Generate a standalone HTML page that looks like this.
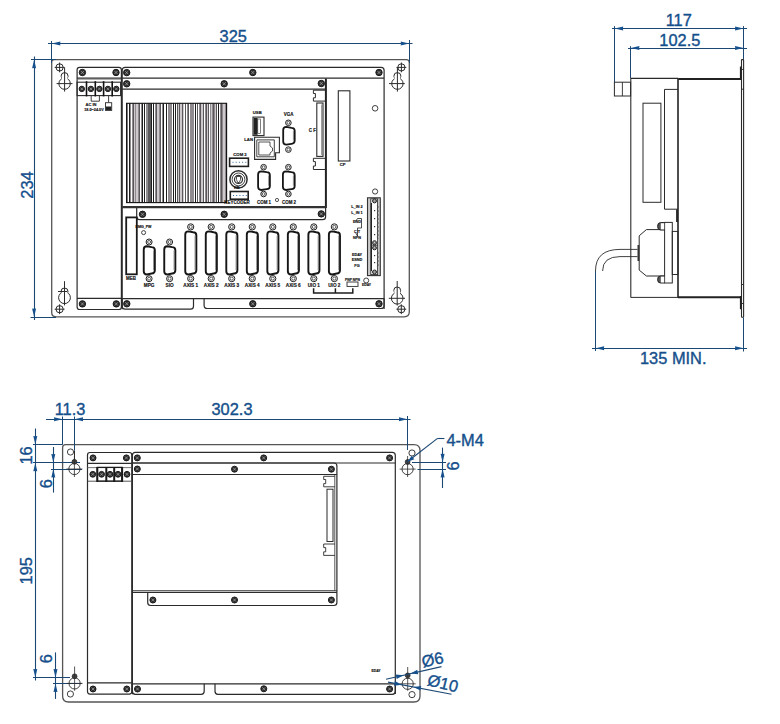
<!DOCTYPE html>
<html><head><meta charset="utf-8"><style>
html,body{margin:0;padding:0;background:#fff;}
svg{display:block;}
text{font-family:"Liberation Sans",sans-serif;}
</style></head><body>
<svg width="780" height="724" viewBox="0 0 780 724">
<rect width="780" height="724" fill="#fff"/>
<path d="M51.7,62.1 Q51.7,59.6 54.2,59.6 H406.3 Q409.3,59.6 409.3,62.6 V311.8 Q409.3,316.8 404.3,316.8 H55.9 Q51.7,316.8 51.7,312.6 Z" stroke="#555" stroke-width="1.3" fill="none"/>
<line x1="48" y1="43.5" x2="412.5" y2="43.5" stroke="#1b4774" stroke-width="1.1"/>
<path d="M51.8,43.4 L60.4,41.4 L60.14,43.4 L60.4,45.4 Z" fill="#15508c"/>
<path d="M409.3,43.4 L400.7,45.4 L400.96,43.4 L400.7,41.4 Z" fill="#15508c"/>
<line x1="51.5" y1="41" x2="51.5" y2="63" stroke="#1b4774" stroke-width="1"/>
<line x1="409.5" y1="40" x2="409.5" y2="63" stroke="#1b4774" stroke-width="1"/>
<text x="233.2" y="42" font-size="16.4" fill="#15508c" stroke="#15508c" stroke-width="0.38" text-anchor="middle" font-weight="normal">325</text>
<line x1="34.5" y1="56.5" x2="34.5" y2="320" stroke="#1b4774" stroke-width="1.1"/>
<path d="M34.1,59.7 L36.1,68.3 L34.1,68.04 L32.1,68.3 Z" fill="#15508c"/>
<path d="M34.1,317 L32.1,308.4 L34.1,308.66 L36.1,308.4 Z" fill="#15508c"/>
<line x1="31" y1="59.5" x2="56" y2="59.5" stroke="#1b4774" stroke-width="1"/>
<line x1="30.5" y1="317.5" x2="56" y2="317.5" stroke="#1b4774" stroke-width="1"/>
<text x="32.8" y="185" font-size="16.4" fill="#15508c" stroke="#15508c" stroke-width="0.38" text-anchor="middle" font-weight="normal" transform="rotate(-90 32.8 185)">234</text>
<circle cx="59.6" cy="67.4" r="3.6" stroke="#2b2b2b" stroke-width="1" fill="none"/>
<line x1="54.7" y1="67.4" x2="64.5" y2="67.4" stroke="#2b2b2b" stroke-width="1"/>
<line x1="59.6" y1="62.5" x2="59.6" y2="72.3" stroke="#2b2b2b" stroke-width="1"/>
<circle cx="64.6" cy="76.1" r="3.5" stroke="#2b2b2b" stroke-width="1" fill="white"/>
<circle cx="64.6" cy="83.6" r="5.7" stroke="#2b2b2b" stroke-width="1" fill="white"/>
<rect x="61.7" y="76.1" width="5.8" height="7.5" fill="white"/>
<line x1="56.6" y1="83.6" x2="72.5" y2="83.6" stroke="#2b2b2b" stroke-width="1"/>
<line x1="64.6" y1="67.4" x2="64.6" y2="91.6" stroke="#2b2b2b" stroke-width="1"/>
<circle cx="401.4" cy="67.4" r="3.6" stroke="#2b2b2b" stroke-width="1" fill="none"/>
<line x1="396.5" y1="67.4" x2="406.3" y2="67.4" stroke="#2b2b2b" stroke-width="1"/>
<line x1="401.4" y1="62.5" x2="401.4" y2="72.3" stroke="#2b2b2b" stroke-width="1"/>
<circle cx="397.4" cy="76.1" r="3.5" stroke="#2b2b2b" stroke-width="1" fill="white"/>
<circle cx="397.4" cy="83.6" r="5.7" stroke="#2b2b2b" stroke-width="1" fill="white"/>
<rect x="394.5" y="76.1" width="5.8" height="7.5" fill="white"/>
<line x1="389" y1="83.6" x2="404.8" y2="83.6" stroke="#2b2b2b" stroke-width="1"/>
<line x1="397.4" y1="67.4" x2="397.4" y2="91.6" stroke="#2b2b2b" stroke-width="1"/>
<circle cx="64.5" cy="291.5" r="3.5" stroke="#2b2b2b" stroke-width="1" fill="white"/>
<circle cx="64.5" cy="297.7" r="5.9" stroke="#2b2b2b" stroke-width="1" fill="white"/>
<rect x="61.6" y="291.5" width="5.8" height="6.2" fill="white"/>
<line x1="58" y1="291.5" x2="67.4" y2="291.5" stroke="#2b2b2b" stroke-width="1"/>
<line x1="64.5" y1="281.2" x2="64.5" y2="305.4" stroke="#2b2b2b" stroke-width="1"/>
<circle cx="59.6" cy="309.2" r="3.6" stroke="#2b2b2b" stroke-width="1" fill="none"/>
<line x1="54.7" y1="309.2" x2="64.5" y2="309.2" stroke="#2b2b2b" stroke-width="1"/>
<line x1="59.6" y1="304.3" x2="59.6" y2="314.1" stroke="#2b2b2b" stroke-width="1"/>
<circle cx="397.2" cy="290.4" r="3.4" stroke="#2b2b2b" stroke-width="1" fill="white"/>
<circle cx="397.2" cy="298.3" r="5.8" stroke="#2b2b2b" stroke-width="1" fill="white"/>
<rect x="394.4" y="290.4" width="5.6" height="7.9" fill="white"/>
<line x1="388.8" y1="298.3" x2="405" y2="298.3" stroke="#2b2b2b" stroke-width="1"/>
<line x1="397.2" y1="281" x2="397.2" y2="305.5" stroke="#2b2b2b" stroke-width="1"/>
<circle cx="401.3" cy="309.2" r="3.6" stroke="#2b2b2b" stroke-width="1" fill="none"/>
<line x1="396.4" y1="309.2" x2="406.2" y2="309.2" stroke="#2b2b2b" stroke-width="1"/>
<line x1="401.3" y1="304.3" x2="401.3" y2="314.1" stroke="#2b2b2b" stroke-width="1"/>
<rect x="77.1" y="67.3" width="44.3" height="242.2" rx="2.5" stroke="#2b2b2b" stroke-width="1.2" fill="none"/>
<line x1="77.1" y1="78.1" x2="121.4" y2="78.1" stroke="#2b2b2b" stroke-width="1.1"/>
<line x1="77.1" y1="79.4" x2="121.4" y2="79.4" stroke="#666" stroke-width="0.6"/>
<circle cx="82.4" cy="72.5" r="3.2" stroke="#1a1a1a" stroke-width="1" fill="#2e2e2e"/>
<line x1="80.8" y1="70.9" x2="84" y2="74.1" stroke="#bdbdbd" stroke-width="0.6"/>
<line x1="80.8" y1="74.1" x2="84" y2="70.9" stroke="#bdbdbd" stroke-width="0.6"/>
<circle cx="116" cy="72.5" r="3.2" stroke="#1a1a1a" stroke-width="1" fill="#2e2e2e"/>
<line x1="114.4" y1="70.9" x2="117.6" y2="74.1" stroke="#bdbdbd" stroke-width="0.6"/>
<line x1="114.4" y1="74.1" x2="117.6" y2="70.9" stroke="#bdbdbd" stroke-width="0.6"/>
<line x1="77.1" y1="298.3" x2="121.4" y2="298.3" stroke="#2b2b2b" stroke-width="1.2"/>
<circle cx="82.4" cy="303.9" r="3.2" stroke="#1a1a1a" stroke-width="1" fill="#2e2e2e"/>
<line x1="80.8" y1="302.3" x2="84" y2="305.5" stroke="#bdbdbd" stroke-width="0.6"/>
<line x1="80.8" y1="305.5" x2="84" y2="302.3" stroke="#bdbdbd" stroke-width="0.6"/>
<circle cx="116.3" cy="303.9" r="3.2" stroke="#1a1a1a" stroke-width="1" fill="#2e2e2e"/>
<line x1="114.7" y1="302.3" x2="117.9" y2="305.5" stroke="#bdbdbd" stroke-width="0.6"/>
<line x1="114.7" y1="305.5" x2="117.9" y2="302.3" stroke="#bdbdbd" stroke-width="0.6"/>
<rect x="77.1" y="82.2" width="43.5" height="13.4" rx="0" stroke="#2b2b2b" stroke-width="1.1" fill="none"/>
<line x1="86.5" y1="81.2" x2="86.5" y2="96.4" stroke="#111" stroke-width="1.6"/>
<line x1="95.3" y1="81.2" x2="95.3" y2="96.4" stroke="#111" stroke-width="1.6"/>
<line x1="103.6" y1="81.2" x2="103.6" y2="96.4" stroke="#111" stroke-width="1.6"/>
<line x1="112.2" y1="81.2" x2="112.2" y2="96.4" stroke="#111" stroke-width="1.6"/>
<circle cx="81.8" cy="88.9" r="2.7" stroke="#1a1a1a" stroke-width="1" fill="#2e2e2e"/>
<line x1="80.45" y1="87.55" x2="83.15" y2="90.25" stroke="#bdbdbd" stroke-width="0.6"/>
<line x1="80.45" y1="90.25" x2="83.15" y2="87.55" stroke="#bdbdbd" stroke-width="0.6"/>
<circle cx="90.9" cy="88.9" r="2.7" stroke="#1a1a1a" stroke-width="1" fill="#2e2e2e"/>
<line x1="89.55" y1="87.55" x2="92.25" y2="90.25" stroke="#bdbdbd" stroke-width="0.6"/>
<line x1="89.55" y1="90.25" x2="92.25" y2="87.55" stroke="#bdbdbd" stroke-width="0.6"/>
<circle cx="99.4" cy="88.9" r="2.7" stroke="#1a1a1a" stroke-width="1" fill="#2e2e2e"/>
<line x1="98.05" y1="87.55" x2="100.75" y2="90.25" stroke="#bdbdbd" stroke-width="0.6"/>
<line x1="98.05" y1="90.25" x2="100.75" y2="87.55" stroke="#bdbdbd" stroke-width="0.6"/>
<circle cx="107.9" cy="88.9" r="2.7" stroke="#1a1a1a" stroke-width="1" fill="#2e2e2e"/>
<line x1="106.55" y1="87.55" x2="109.25" y2="90.25" stroke="#bdbdbd" stroke-width="0.6"/>
<line x1="106.55" y1="90.25" x2="109.25" y2="87.55" stroke="#bdbdbd" stroke-width="0.6"/>
<circle cx="116.3" cy="88.9" r="2.7" stroke="#1a1a1a" stroke-width="1" fill="#2e2e2e"/>
<line x1="114.95" y1="87.55" x2="117.65" y2="90.25" stroke="#bdbdbd" stroke-width="0.6"/>
<line x1="114.95" y1="90.25" x2="117.65" y2="87.55" stroke="#bdbdbd" stroke-width="0.6"/>
<path d="M91.2,95.6 V101.2 H99.4 V95.6" stroke="#2b2b2b" stroke-width="0.9" fill="none"/>
<path d="M108.6,95.6 V102.7" stroke="#2b2b2b" stroke-width="0.9" fill="none"/>
<rect x="105.5" y="102.7" width="6.2" height="7.7" rx="0" stroke="#2b2b2b" stroke-width="0.9" fill="white"/>
<rect x="106" y="106.5" width="5.2" height="3.5" fill="#222"/>
<text x="91" y="106" font-size="4.03" fill="#111" stroke="#111" stroke-width="0.15" text-anchor="middle" font-weight="bold">AC IN</text>
<text x="94" y="110.5" font-size="3.81" fill="#111" stroke="#111" stroke-width="0.15" text-anchor="middle" font-weight="bold">18.0~24.0V</text>
<path d="M122.2,309.2 V70.3 Q122.2,67.3 125.2,67.3 H381.1 Q384.1,67.3 384.1,70.3 V309" stroke="#2b2b2b" stroke-width="1.2" fill="none"/>
<line x1="122.2" y1="78.2" x2="384.1" y2="78.2" stroke="#2b2b2b" stroke-width="1.2"/>
<circle cx="126.7" cy="72.6" r="3.2" stroke="#1a1a1a" stroke-width="1" fill="#2e2e2e"/>
<line x1="125.1" y1="71" x2="128.3" y2="74.2" stroke="#bdbdbd" stroke-width="0.6"/>
<line x1="125.1" y1="74.2" x2="128.3" y2="71" stroke="#bdbdbd" stroke-width="0.6"/>
<circle cx="252.8" cy="72.5" r="3.2" stroke="#1a1a1a" stroke-width="1" fill="#2e2e2e"/>
<line x1="251.2" y1="70.9" x2="254.4" y2="74.1" stroke="#bdbdbd" stroke-width="0.6"/>
<line x1="251.2" y1="74.1" x2="254.4" y2="70.9" stroke="#bdbdbd" stroke-width="0.6"/>
<circle cx="379" cy="72.5" r="3.2" stroke="#1a1a1a" stroke-width="1" fill="#2e2e2e"/>
<line x1="377.4" y1="70.9" x2="380.6" y2="74.1" stroke="#bdbdbd" stroke-width="0.6"/>
<line x1="377.4" y1="74.1" x2="380.6" y2="70.9" stroke="#bdbdbd" stroke-width="0.6"/>
<line x1="122.2" y1="298.6" x2="384.1" y2="298.6" stroke="#2b2b2b" stroke-width="1.3"/>
<path d="M122.2,298.6 V306.2 Q122.2,309.2 125.2,309.2 H190.5 Q193.5,309.2 193.5,306.2 V298.6" stroke="#2b2b2b" stroke-width="1.2" fill="none"/>
<path d="M204.1,298.6 V305.2 Q204.1,308.5 207.4,308.5 H380.8 Q384.1,308.5 384.1,305.2 V298.6" stroke="#2b2b2b" stroke-width="1.2" fill="none"/>
<circle cx="126.8" cy="303.8" r="3.2" stroke="#1a1a1a" stroke-width="1" fill="#2e2e2e"/>
<line x1="125.2" y1="302.2" x2="128.4" y2="305.4" stroke="#bdbdbd" stroke-width="0.6"/>
<line x1="125.2" y1="305.4" x2="128.4" y2="302.2" stroke="#bdbdbd" stroke-width="0.6"/>
<circle cx="252.8" cy="303.8" r="3.2" stroke="#1a1a1a" stroke-width="1" fill="#2e2e2e"/>
<line x1="251.2" y1="302.2" x2="254.4" y2="305.4" stroke="#bdbdbd" stroke-width="0.6"/>
<line x1="251.2" y1="305.4" x2="254.4" y2="302.2" stroke="#bdbdbd" stroke-width="0.6"/>
<circle cx="379" cy="303.8" r="3.2" stroke="#1a1a1a" stroke-width="1" fill="#2e2e2e"/>
<line x1="377.4" y1="302.2" x2="380.6" y2="305.4" stroke="#bdbdbd" stroke-width="0.6"/>
<line x1="377.4" y1="305.4" x2="380.6" y2="302.2" stroke="#bdbdbd" stroke-width="0.6"/>
<line x1="122.2" y1="89.1" x2="325.6" y2="89.1" stroke="#2b2b2b" stroke-width="1.2"/>
<circle cx="126.7" cy="83.8" r="3.2" stroke="#1a1a1a" stroke-width="1" fill="#2e2e2e"/>
<line x1="125.1" y1="82.2" x2="128.3" y2="85.4" stroke="#bdbdbd" stroke-width="0.6"/>
<line x1="125.1" y1="85.4" x2="128.3" y2="82.2" stroke="#bdbdbd" stroke-width="0.6"/>
<circle cx="224.2" cy="83.8" r="3.2" stroke="#1a1a1a" stroke-width="1" fill="#2e2e2e"/>
<line x1="222.6" y1="82.2" x2="225.8" y2="85.4" stroke="#bdbdbd" stroke-width="0.6"/>
<line x1="222.6" y1="85.4" x2="225.8" y2="82.2" stroke="#bdbdbd" stroke-width="0.6"/>
<circle cx="321.3" cy="83.5" r="3.2" stroke="#1a1a1a" stroke-width="1" fill="#2e2e2e"/>
<line x1="319.7" y1="81.9" x2="322.9" y2="85.1" stroke="#bdbdbd" stroke-width="0.6"/>
<line x1="319.7" y1="85.1" x2="322.9" y2="81.9" stroke="#bdbdbd" stroke-width="0.6"/>
<line x1="325.9" y1="78.6" x2="325.9" y2="208" stroke="#222" stroke-width="2"/>
<line x1="122.2" y1="207.2" x2="325.9" y2="207.2" stroke="#333" stroke-width="2.2"/>
<path d="M136.7,208 V216.7 Q136.7,219.7 139.7,219.7 H322.6 Q325.6,219.7 325.6,216.7 V208" stroke="#2b2b2b" stroke-width="1.2" fill="none"/>
<circle cx="142.5" cy="214.3" r="3.2" stroke="#1a1a1a" stroke-width="1" fill="#2e2e2e"/>
<line x1="140.9" y1="212.7" x2="144.1" y2="215.9" stroke="#bdbdbd" stroke-width="0.6"/>
<line x1="140.9" y1="215.9" x2="144.1" y2="212.7" stroke="#bdbdbd" stroke-width="0.6"/>
<circle cx="224.2" cy="214.3" r="3.2" stroke="#1a1a1a" stroke-width="1" fill="#2e2e2e"/>
<line x1="222.6" y1="212.7" x2="225.8" y2="215.9" stroke="#bdbdbd" stroke-width="0.6"/>
<line x1="222.6" y1="215.9" x2="225.8" y2="212.7" stroke="#bdbdbd" stroke-width="0.6"/>
<circle cx="321.3" cy="213.9" r="3.2" stroke="#1a1a1a" stroke-width="1" fill="#2e2e2e"/>
<line x1="319.7" y1="212.3" x2="322.9" y2="215.5" stroke="#bdbdbd" stroke-width="0.6"/>
<line x1="319.7" y1="215.5" x2="322.9" y2="212.3" stroke="#bdbdbd" stroke-width="0.6"/>
<rect x="126" y="103.3" width="1" height="99.3" fill="#8f8b8f"/>
<rect x="127" y="103.3" width="1" height="99.3" fill="#8f8b8f"/>
<rect x="128" y="103.3" width="1" height="99.3" fill="#ffffff"/>
<rect x="129" y="103.3" width="1" height="99.3" fill="#1e1e1e"/>
<rect x="130" y="103.3" width="1" height="99.3" fill="#8f8b8f"/>
<rect x="131" y="103.3" width="1" height="99.3" fill="#ffffff"/>
<rect x="132" y="103.3" width="1" height="99.3" fill="#8f8b8f"/>
<rect x="133" y="103.3" width="1" height="99.3" fill="#5a575a"/>
<rect x="134" y="103.3" width="1" height="99.3" fill="#cdc9cd"/>
<rect x="135" y="103.3" width="1" height="99.3" fill="#8f8b8f"/>
<rect x="136" y="103.3" width="1" height="99.3" fill="#cdc9cd"/>
<rect x="137" y="103.3" width="1" height="99.3" fill="#cdc9cd"/>
<rect x="138" y="103.3" width="1" height="99.3" fill="#8f8b8f"/>
<rect x="139" y="103.3" width="1" height="99.3" fill="#5a575a"/>
<rect x="140" y="103.3" width="1" height="99.3" fill="#ffffff"/>
<rect x="141" y="103.3" width="1" height="99.3" fill="#8f8b8f"/>
<rect x="142" y="103.3" width="1" height="99.3" fill="#1e1e1e"/>
<rect x="143" y="103.3" width="1" height="99.3" fill="#ffffff"/>
<rect x="144" y="103.3" width="1" height="99.3" fill="#1e1e1e"/>
<rect x="145" y="103.3" width="1" height="99.3" fill="#ffffff"/>
<rect x="146" y="103.3" width="1" height="99.3" fill="#8f8b8f"/>
<rect x="147" y="103.3" width="1" height="99.3" fill="#8f8b8f"/>
<rect x="148" y="103.3" width="1" height="99.3" fill="#5a575a"/>
<rect x="149" y="103.3" width="1" height="99.3" fill="#5a575a"/>
<rect x="150" y="103.3" width="1" height="99.3" fill="#5a575a"/>
<rect x="151" y="103.3" width="1" height="99.3" fill="#1e1e1e"/>
<rect x="152" y="103.3" width="1" height="99.3" fill="#ffffff"/>
<rect x="153" y="103.3" width="1" height="99.3" fill="#1e1e1e"/>
<rect x="154" y="103.3" width="1" height="99.3" fill="#ffffff"/>
<rect x="155" y="103.3" width="1" height="99.3" fill="#8f8b8f"/>
<rect x="156" y="103.3" width="1" height="99.3" fill="#5a575a"/>
<rect x="157" y="103.3" width="1" height="99.3" fill="#cdc9cd"/>
<rect x="158" y="103.3" width="1" height="99.3" fill="#cdc9cd"/>
<rect x="159" y="103.3" width="1" height="99.3" fill="#8f8b8f"/>
<rect x="160" y="103.3" width="1" height="99.3" fill="#5a575a"/>
<rect x="161" y="103.3" width="1" height="99.3" fill="#ffffff"/>
<rect x="162" y="103.3" width="1" height="99.3" fill="#8f8b8f"/>
<rect x="163" y="103.3" width="1" height="99.3" fill="#1e1e1e"/>
<rect x="164" y="103.3" width="1" height="99.3" fill="#ffffff"/>
<rect x="165" y="103.3" width="1" height="99.3" fill="#ffffff"/>
<rect x="166" y="103.3" width="1" height="99.3" fill="#1e1e1e"/>
<rect x="167" y="103.3" width="1" height="99.3" fill="#ffffff"/>
<rect x="168" y="103.3" width="1" height="99.3" fill="#8f8b8f"/>
<rect x="169" y="103.3" width="1" height="99.3" fill="#8f8b8f"/>
<rect x="170" y="103.3" width="1" height="99.3" fill="#8f8b8f"/>
<rect x="171" y="103.3" width="1" height="99.3" fill="#8f8b8f"/>
<rect x="172" y="103.3" width="1" height="99.3" fill="#ffffff"/>
<rect x="173" y="103.3" width="1" height="99.3" fill="#1e1e1e"/>
<rect x="174" y="103.3" width="1" height="99.3" fill="#ffffff"/>
<rect x="175" y="103.3" width="1" height="99.3" fill="#1e1e1e"/>
<rect x="176" y="103.3" width="1" height="99.3" fill="#ffffff"/>
<rect x="177" y="103.3" width="1" height="99.3" fill="#5a575a"/>
<rect x="178" y="103.3" width="1" height="99.3" fill="#cdc9cd"/>
<rect x="179" y="103.3" width="1" height="99.3" fill="#5a575a"/>
<rect x="180" y="103.3" width="1" height="99.3" fill="#cdc9cd"/>
<rect x="181" y="103.3" width="1" height="99.3" fill="#cdc9cd"/>
<rect x="182" y="103.3" width="1" height="99.3" fill="#5a575a"/>
<rect x="183" y="103.3" width="1" height="99.3" fill="#cdc9cd"/>
<rect x="184" y="103.3" width="1" height="99.3" fill="#ffffff"/>
<rect x="185" y="103.3" width="1" height="99.3" fill="#5a575a"/>
<rect x="186" y="103.3" width="1" height="99.3" fill="#ffffff"/>
<rect x="187" y="103.3" width="1" height="99.3" fill="#8f8b8f"/>
<rect x="188" y="103.3" width="1" height="99.3" fill="#5a575a"/>
<rect x="189" y="103.3" width="1" height="99.3" fill="#ffffff"/>
<rect x="190" y="103.3" width="1" height="99.3" fill="#8f8b8f"/>
<rect x="191" y="103.3" width="1" height="99.3" fill="#8f8b8f"/>
<rect x="192" y="103.3" width="1" height="99.3" fill="#8f8b8f"/>
<rect x="193" y="103.3" width="1" height="99.3" fill="#8f8b8f"/>
<rect x="194" y="103.3" width="1" height="99.3" fill="#ffffff"/>
<rect x="195" y="103.3" width="1" height="99.3" fill="#1e1e1e"/>
<rect x="196" y="103.3" width="1" height="99.3" fill="#ffffff"/>
<rect x="197" y="103.3" width="1" height="99.3" fill="#5a575a"/>
<rect x="198" y="103.3" width="1" height="99.3" fill="#ffffff"/>
<rect x="199" y="103.3" width="1" height="99.3" fill="#8f8b8f"/>
<rect x="200" y="103.3" width="1" height="99.3" fill="#5a575a"/>
<rect x="201" y="103.3" width="1" height="99.3" fill="#cdc9cd"/>
<rect x="202" y="103.3" width="1" height="99.3" fill="#cdc9cd"/>
<rect x="203" y="103.3" width="1" height="99.3" fill="#5a575a"/>
<rect x="204" y="103.3" width="1" height="99.3" fill="#ffffff"/>
<rect x="205" y="103.3" width="1" height="99.3" fill="#8f8b8f"/>
<rect x="206" y="103.3" width="1" height="99.3" fill="#5a575a"/>
<rect x="207" y="103.3" width="1" height="99.3" fill="#cdc9cd"/>
<rect x="208" y="103.3" width="1" height="99.3" fill="#5a575a"/>
<rect x="209" y="103.3" width="1" height="99.3" fill="#ffffff"/>
<rect x="210" y="103.3" width="1" height="99.3" fill="#8f8b8f"/>
<rect x="211" y="103.3" width="1" height="99.3" fill="#cdc9cd"/>
<rect x="212" y="103.3" width="1" height="99.3" fill="#8f8b8f"/>
<rect x="213" y="103.3" width="1" height="99.3" fill="#5a575a"/>
<rect x="214" y="103.3" width="1" height="99.3" fill="#8f8b8f"/>
<rect x="215" y="103.3" width="1" height="99.3" fill="#cdc9cd"/>
<rect x="216" y="103.3" width="1" height="99.3" fill="#5a575a"/>
<rect x="217" y="103.3" width="1" height="99.3" fill="#ffffff"/>
<rect x="218" y="103.3" width="1" height="99.3" fill="#1e1e1e"/>
<rect x="219" y="103.3" width="1" height="99.3" fill="#ffffff"/>
<rect x="220" y="103.3" width="1" height="99.3" fill="#8f8b8f"/>
<rect x="221" y="103.3" width="1" height="99.3" fill="#5a575a"/>
<rect x="222" y="103.3" width="1" height="99.3" fill="#8f8b8f"/>
<rect x="223" y="103.3" width="1" height="99.3" fill="#cdc9cd"/>
<rect x="224" y="103.3" width="1" height="99.3" fill="#cdc9cd"/>
<rect x="225" y="103.3" width="1" height="99.3" fill="#8f8b8f"/>
<rect x="226" y="103.3" width="1" height="99.3" fill="#5a575a"/>
<rect x="126.6" y="103.3" width="100" height="99.3" rx="0" stroke="#111" stroke-width="1.1" fill="none"/>
<rect x="253" y="117.1" width="11" height="18.5" rx="0" stroke="#2b2b2b" stroke-width="1.1" fill="none"/>
<rect x="253.6" y="118" width="4" height="16.8" fill="#222"/>
<rect x="257.8" y="119" width="2.8" height="14.5" rx="0" stroke="#2b2b2b" stroke-width="0.6" fill="none"/>
<text x="257.3" y="114.4" font-size="4.26" fill="#111" stroke="#111" stroke-width="0.15" text-anchor="middle" font-weight="bold">USB</text>
<circle cx="288.4" cy="122.8" r="2.8" stroke="#1e1e1e" stroke-width="1" fill="white"/>
<circle cx="288.4" cy="122.8" r="1.4" stroke="#333" stroke-width="0.8" fill="none"/>
<circle cx="288.4" cy="149.6" r="2.8" stroke="#1e1e1e" stroke-width="1" fill="white"/>
<circle cx="288.4" cy="149.6" r="1.4" stroke="#333" stroke-width="0.8" fill="none"/>
<path d="M283.2,130.1 Q283.2,126.9 286.4,126.9 L291.5,127.8 Q294.7,127.8 294.7,131 L294.7,140.6 Q294.7,143.8 291.5,143.8 L286.4,144.7 Q283.2,144.7 283.2,141.5 Z" stroke="#161616" stroke-width="1.8" fill="white"/>
<line x1="293.4" y1="131.1" x2="293.4" y2="140.5" stroke="#777" stroke-width="0.8"/>
<text x="288.6" y="115.6" font-size="4.48" fill="#111" stroke="#111" stroke-width="0.15" text-anchor="middle" font-weight="bold">VGA</text>
<path d="M254.6,137.3 H279.4 V152.7 H275.6 V159.4 H254.6 Z" stroke="#2b2b2b" stroke-width="1.1" fill="none"/>
<path d="M256.8,139.9 H274.3 V156.8 H256.8 Z" stroke="#2b2b2b" stroke-width="0.9" fill="none"/>
<path d="M258.8,142 H270 V146 L272.5,148 V151 L270,153 V155 H258.8 Z" stroke="#2b2b2b" stroke-width="0.8" fill="none"/>
<text x="248.6" y="140.8" font-size="4.26" fill="#111" stroke="#111" stroke-width="0.15" text-anchor="middle" font-weight="bold">LAN</text>
<rect x="229.6" y="158.2" width="18.8" height="8.2" rx="0" stroke="#1e1e1e" stroke-width="1.6" fill="none"/>
<rect x="232.5" y="161.8" width="1" height="1" fill="#3a6a9a"/>
<rect x="235.7" y="161.8" width="1" height="1" fill="#3a6a9a"/>
<rect x="238.9" y="161.8" width="1" height="1" fill="#3a6a9a"/>
<rect x="242.1" y="161.8" width="1" height="1" fill="#3a6a9a"/>
<rect x="245.3" y="161.8" width="1" height="1" fill="#3a6a9a"/>
<text x="240" y="156" font-size="4.26" fill="#111" stroke="#111" stroke-width="0.15" text-anchor="middle" font-weight="bold">COM 3</text>
<circle cx="238.5" cy="179.4" r="8.6" stroke="#2b2b2b" stroke-width="1.5" fill="none"/>
<circle cx="238.5" cy="179.4" r="6.4" stroke="#2b2b2b" stroke-width="0.9" fill="none"/>
<circle cx="238.5" cy="179.4" r="4" stroke="#2b2b2b" stroke-width="1.2" fill="none"/>
<path d="M236.5,176.5 H240.5 V179.5 L239.3,182.5 H237.7 L236.5,179.5 Z" stroke="#222" stroke-width="0.8" fill="none"/>
<text x="236.8" y="189" font-size="4.03" fill="#111" stroke="#111" stroke-width="0.15" text-anchor="middle" font-weight="bold">KB</text>
<rect x="230.3" y="191.5" width="17.9" height="7.7" rx="0" stroke="#1e1e1e" stroke-width="1.6" fill="none"/>
<rect x="233" y="195" width="1" height="1" fill="#3a6a9a"/>
<rect x="236.2" y="195" width="1" height="1" fill="#3a6a9a"/>
<rect x="239.4" y="195" width="1" height="1" fill="#3a6a9a"/>
<rect x="242.6" y="195" width="1" height="1" fill="#3a6a9a"/>
<rect x="245.8" y="195" width="1" height="1" fill="#3a6a9a"/>
<text x="237" y="204.3" font-size="4.48" fill="#111" stroke="#111" stroke-width="0.15" text-anchor="middle" font-weight="bold">KEYCODER</text>
<circle cx="263.6" cy="167.2" r="2.8" stroke="#1e1e1e" stroke-width="1" fill="white"/>
<circle cx="263.6" cy="167.2" r="1.4" stroke="#333" stroke-width="0.8" fill="none"/>
<circle cx="263.6" cy="194" r="2.8" stroke="#1e1e1e" stroke-width="1" fill="white"/>
<circle cx="263.6" cy="194" r="1.4" stroke="#333" stroke-width="0.8" fill="none"/>
<path d="M258.1,174.5 Q258.1,171.3 261.3,171.3 L266.7,172.2 Q269.9,172.2 269.9,175.4 L269.9,185.9 Q269.9,189.1 266.7,189.1 L261.3,190 Q258.1,190 258.1,186.8 Z" stroke="#161616" stroke-width="1.8" fill="white"/>
<line x1="268.6" y1="175.5" x2="268.6" y2="185.8" stroke="#777" stroke-width="0.8"/>
<circle cx="288.4" cy="167.2" r="2.8" stroke="#1e1e1e" stroke-width="1" fill="white"/>
<circle cx="288.4" cy="167.2" r="1.4" stroke="#333" stroke-width="0.8" fill="none"/>
<circle cx="288.4" cy="194" r="2.8" stroke="#1e1e1e" stroke-width="1" fill="white"/>
<circle cx="288.4" cy="194" r="1.4" stroke="#333" stroke-width="0.8" fill="none"/>
<path d="M282.9,174.5 Q282.9,171.3 286.1,171.3 L291.5,172.2 Q294.7,172.2 294.7,175.4 L294.7,185.9 Q294.7,189.1 291.5,189.1 L286.1,190 Q282.9,190 282.9,186.8 Z" stroke="#161616" stroke-width="1.8" fill="white"/>
<line x1="293.4" y1="175.5" x2="293.4" y2="185.8" stroke="#777" stroke-width="0.8"/>
<text x="264" y="204.2" font-size="4.48" fill="#111" stroke="#111" stroke-width="0.15" text-anchor="middle" font-weight="bold">COM 1</text>
<text x="289" y="204.2" font-size="4.48" fill="#111" stroke="#111" stroke-width="0.15" text-anchor="middle" font-weight="bold">COM 2</text>
<circle cx="277" cy="200" r="1.6" stroke="#2b2b2b" stroke-width="0.8" fill="none"/>
<path d="M325.6,90.2 H313.4 V93.5 H315.4 V97.8 H313.4 V101.1 H325.6" stroke="#2b2b2b" stroke-width="1" fill="none"/>
<rect x="316.8" y="103" width="6.2" height="53.4" rx="0" stroke="#2b2b2b" stroke-width="1.1" fill="none"/>
<line x1="321.6" y1="104.5" x2="321.6" y2="155" stroke="#666" stroke-width="0.7"/>
<path d="M325.6,158.3 H313.4 V161.6 H315.4 V166 H313.4 V169.5 H325.6" stroke="#2b2b2b" stroke-width="1" fill="none"/>
<text x="312.3" y="131.8" font-size="4.48" fill="#111" stroke="#111" stroke-width="0.15" text-anchor="middle" font-weight="bold">C F</text>
<rect x="338.3" y="90.8" width="11.6" height="70.2" rx="0" stroke="#2b2b2b" stroke-width="1.1" fill="none"/>
<text x="342.6" y="165.5" font-size="4.26" fill="#111" stroke="#111" stroke-width="0.15" text-anchor="middle" font-weight="bold">CP</text>
<circle cx="375.1" cy="108.3" r="2.8" stroke="#2b2b2b" stroke-width="0.9" fill="none"/>
<circle cx="375.1" cy="191.5" r="2.6" stroke="#2b2b2b" stroke-width="0.9" fill="none"/>
<rect x="367.5" y="197.8" width="12.8" height="77.8" rx="0" stroke="#333" stroke-width="1.1" fill="#c9c9c9"/>
<rect x="370.8" y="198.8" width="6.8" height="75.8" rx="0" stroke="#333" stroke-width="0.9" fill="white"/>
<line x1="371.4" y1="203" x2="371.4" y2="271" stroke="#222" stroke-width="1.2"/>
<path d="M377,205 L378.5,207 L377,209 L378.5,211 L377,213 L378.5,215 L377,217 L378.5,219 L377,221 L378.5,223 L377,225 L378.5,227 L377,229 L378.5,231 L377,233 L378.5,235 L377,237 L378.5,239" stroke="#444" stroke-width="0.6" fill="none"/>
<path d="M377,251 L378.5,253 L377,255 L378.5,257 L377,259 L378.5,261 L377,263 L378.5,265 L377,267" stroke="#444" stroke-width="0.6" fill="none"/>
<line x1="370.8" y1="245.2" x2="377.6" y2="245.2" stroke="#333" stroke-width="1"/>
<rect x="374" y="210" width="1.2" height="1.2" fill="#333"/>
<rect x="374" y="218" width="1.2" height="1.2" fill="#333"/>
<rect x="374" y="226" width="1.2" height="1.2" fill="#333"/>
<rect x="374" y="234" width="1.2" height="1.2" fill="#333"/>
<rect x="374" y="255" width="1.2" height="1.2" fill="#333"/>
<rect x="374" y="262" width="1.2" height="1.2" fill="#333"/>
<circle cx="374.5" cy="200.9" r="2" stroke="#1e1e1e" stroke-width="1" fill="white"/>
<circle cx="374.5" cy="200.9" r="1" stroke="#333" stroke-width="0.8" fill="none"/>
<circle cx="374.5" cy="242.7" r="2" stroke="#1e1e1e" stroke-width="1" fill="white"/>
<circle cx="374.5" cy="242.7" r="1" stroke="#333" stroke-width="0.8" fill="none"/>
<circle cx="374.5" cy="247.8" r="2" stroke="#1e1e1e" stroke-width="1" fill="white"/>
<circle cx="374.5" cy="247.8" r="1" stroke="#333" stroke-width="0.8" fill="none"/>
<circle cx="374.5" cy="272" r="2" stroke="#1e1e1e" stroke-width="1" fill="white"/>
<circle cx="374.5" cy="272" r="1" stroke="#333" stroke-width="0.8" fill="none"/>
<text x="357" y="207.5" font-size="3.81" fill="#111" stroke="#111" stroke-width="0.15" text-anchor="middle" font-weight="bold">L_IN 2</text>
<text x="357" y="213.6" font-size="3.81" fill="#111" stroke="#111" stroke-width="0.15" text-anchor="middle" font-weight="bold">L_IN 1</text>
<text x="357" y="222.6" font-size="3.81" fill="#111" stroke="#111" stroke-width="0.15" text-anchor="middle" font-weight="bold">END</text>
<text x="357" y="233" font-size="3.81" fill="#111" stroke="#111" stroke-width="0.15" text-anchor="middle" font-weight="bold">C T</text>
<text x="357" y="238.8" font-size="3.81" fill="#111" stroke="#111" stroke-width="0.15" text-anchor="middle" font-weight="bold">NPN</text>
<path d="M355.5,221.5 L357.5,218.5 H361.5 V228 H357.5 V236 L355.5,232.5" stroke="#222" stroke-width="0.8" fill="none"/>
<text x="357" y="255.5" font-size="3.81" fill="#111" stroke="#111" stroke-width="0.15" text-anchor="middle" font-weight="bold">EDAY</text>
<text x="357" y="260.8" font-size="3.81" fill="#111" stroke="#111" stroke-width="0.15" text-anchor="middle" font-weight="bold">ESND</text>
<text x="357" y="266.5" font-size="3.81" fill="#111" stroke="#111" stroke-width="0.15" text-anchor="middle" font-weight="bold">FG</text>
<rect x="126.2" y="217.4" width="10.6" height="56.9" rx="0" stroke="#1a1a1a" stroke-width="1.8" fill="none"/>
<text x="131" y="280" font-size="4.48" fill="#111" stroke="#111" stroke-width="0.15" text-anchor="middle" font-weight="bold">MEB</text>
<text x="143.5" y="228.2" font-size="3.58" fill="#111" stroke="#111" stroke-width="0.15" text-anchor="middle" font-weight="bold">EMG_PW</text>
<circle cx="143.6" cy="232.6" r="2" stroke="#2b2b2b" stroke-width="0.9" fill="none"/>
<circle cx="149.1" cy="242" r="3" stroke="#1e1e1e" stroke-width="1" fill="white"/>
<circle cx="149.1" cy="242" r="1.5" stroke="#333" stroke-width="0.8" fill="none"/>
<circle cx="149.1" cy="278.7" r="3" stroke="#1e1e1e" stroke-width="1" fill="white"/>
<circle cx="149.1" cy="278.7" r="1.5" stroke="#333" stroke-width="0.8" fill="none"/>
<path d="M143.75,249.45 Q143.75,246.25 146.95,246.25 L151.65,247.15 Q154.85,247.15 154.85,250.35 L154.85,270.35 Q154.85,273.55 151.65,273.55 L146.95,274.45 Q143.75,274.45 143.75,271.25 Z" stroke="#161616" stroke-width="1.9" fill="white"/>
<line x1="153.55" y1="250.45" x2="153.55" y2="270.25" stroke="#777" stroke-width="0.8"/>
<text x="149.1" y="287.2" font-size="4.7" fill="#111" stroke="#111" stroke-width="0.15" text-anchor="middle" font-weight="bold">MPG</text>
<circle cx="169.6" cy="242" r="3" stroke="#1e1e1e" stroke-width="1" fill="white"/>
<circle cx="169.6" cy="242" r="1.5" stroke="#333" stroke-width="0.8" fill="none"/>
<circle cx="169.6" cy="278.7" r="3" stroke="#1e1e1e" stroke-width="1" fill="white"/>
<circle cx="169.6" cy="278.7" r="1.5" stroke="#333" stroke-width="0.8" fill="none"/>
<path d="M164.25,249.45 Q164.25,246.25 167.45,246.25 L172.15,247.15 Q175.35,247.15 175.35,250.35 L175.35,270.35 Q175.35,273.55 172.15,273.55 L167.45,274.45 Q164.25,274.45 164.25,271.25 Z" stroke="#161616" stroke-width="1.9" fill="white"/>
<line x1="174.05" y1="250.45" x2="174.05" y2="270.25" stroke="#777" stroke-width="0.8"/>
<text x="169.6" y="287.2" font-size="4.7" fill="#111" stroke="#111" stroke-width="0.15" text-anchor="middle" font-weight="bold">SIO</text>
<circle cx="190.7" cy="226.9" r="3.1" stroke="#1e1e1e" stroke-width="1" fill="white"/>
<circle cx="190.7" cy="226.9" r="1.55" stroke="#333" stroke-width="0.8" fill="none"/>
<circle cx="190.7" cy="278.6" r="3.1" stroke="#1e1e1e" stroke-width="1" fill="white"/>
<circle cx="190.7" cy="278.6" r="1.55" stroke="#333" stroke-width="0.8" fill="none"/>
<path d="M185.25,234.55 Q185.25,231.35 188.45,231.35 L193.15,232.25 Q196.35,232.25 196.35,235.45 L196.35,270.35 Q196.35,273.55 193.15,273.55 L188.45,274.45 Q185.25,274.45 185.25,271.25 Z" stroke="#161616" stroke-width="1.9" fill="white"/>
<line x1="195.05" y1="235.55" x2="195.05" y2="270.25" stroke="#777" stroke-width="0.8"/>
<text x="190.7" y="287.2" font-size="4.7" fill="#111" stroke="#111" stroke-width="0.15" text-anchor="middle" font-weight="bold">AXIS 1</text>
<circle cx="211.22" cy="226.9" r="3.1" stroke="#1e1e1e" stroke-width="1" fill="white"/>
<circle cx="211.22" cy="226.9" r="1.55" stroke="#333" stroke-width="0.8" fill="none"/>
<circle cx="211.22" cy="278.6" r="3.1" stroke="#1e1e1e" stroke-width="1" fill="white"/>
<circle cx="211.22" cy="278.6" r="1.55" stroke="#333" stroke-width="0.8" fill="none"/>
<path d="M205.77,234.55 Q205.77,231.35 208.97,231.35 L213.67,232.25 Q216.87,232.25 216.87,235.45 L216.87,270.35 Q216.87,273.55 213.67,273.55 L208.97,274.45 Q205.77,274.45 205.77,271.25 Z" stroke="#161616" stroke-width="1.9" fill="white"/>
<line x1="215.57" y1="235.55" x2="215.57" y2="270.25" stroke="#777" stroke-width="0.8"/>
<text x="211.22" y="287.2" font-size="4.7" fill="#111" stroke="#111" stroke-width="0.15" text-anchor="middle" font-weight="bold">AXIS 2</text>
<circle cx="231.74" cy="226.9" r="3.1" stroke="#1e1e1e" stroke-width="1" fill="white"/>
<circle cx="231.74" cy="226.9" r="1.55" stroke="#333" stroke-width="0.8" fill="none"/>
<circle cx="231.74" cy="278.6" r="3.1" stroke="#1e1e1e" stroke-width="1" fill="white"/>
<circle cx="231.74" cy="278.6" r="1.55" stroke="#333" stroke-width="0.8" fill="none"/>
<path d="M226.29,234.55 Q226.29,231.35 229.49,231.35 L234.19,232.25 Q237.39,232.25 237.39,235.45 L237.39,270.35 Q237.39,273.55 234.19,273.55 L229.49,274.45 Q226.29,274.45 226.29,271.25 Z" stroke="#161616" stroke-width="1.9" fill="white"/>
<line x1="236.09" y1="235.55" x2="236.09" y2="270.25" stroke="#777" stroke-width="0.8"/>
<text x="231.74" y="287.2" font-size="4.7" fill="#111" stroke="#111" stroke-width="0.15" text-anchor="middle" font-weight="bold">AXIS 3</text>
<circle cx="252.26" cy="226.9" r="3.1" stroke="#1e1e1e" stroke-width="1" fill="white"/>
<circle cx="252.26" cy="226.9" r="1.55" stroke="#333" stroke-width="0.8" fill="none"/>
<circle cx="252.26" cy="278.6" r="3.1" stroke="#1e1e1e" stroke-width="1" fill="white"/>
<circle cx="252.26" cy="278.6" r="1.55" stroke="#333" stroke-width="0.8" fill="none"/>
<path d="M246.81,234.55 Q246.81,231.35 250.01,231.35 L254.71,232.25 Q257.91,232.25 257.91,235.45 L257.91,270.35 Q257.91,273.55 254.71,273.55 L250.01,274.45 Q246.81,274.45 246.81,271.25 Z" stroke="#161616" stroke-width="1.9" fill="white"/>
<line x1="256.61" y1="235.55" x2="256.61" y2="270.25" stroke="#777" stroke-width="0.8"/>
<text x="252.26" y="287.2" font-size="4.7" fill="#111" stroke="#111" stroke-width="0.15" text-anchor="middle" font-weight="bold">AXIS 4</text>
<circle cx="272.78" cy="226.9" r="3.1" stroke="#1e1e1e" stroke-width="1" fill="white"/>
<circle cx="272.78" cy="226.9" r="1.55" stroke="#333" stroke-width="0.8" fill="none"/>
<circle cx="272.78" cy="278.6" r="3.1" stroke="#1e1e1e" stroke-width="1" fill="white"/>
<circle cx="272.78" cy="278.6" r="1.55" stroke="#333" stroke-width="0.8" fill="none"/>
<path d="M267.33,234.55 Q267.33,231.35 270.53,231.35 L275.23,232.25 Q278.43,232.25 278.43,235.45 L278.43,270.35 Q278.43,273.55 275.23,273.55 L270.53,274.45 Q267.33,274.45 267.33,271.25 Z" stroke="#161616" stroke-width="1.9" fill="white"/>
<line x1="277.13" y1="235.55" x2="277.13" y2="270.25" stroke="#777" stroke-width="0.8"/>
<text x="272.78" y="287.2" font-size="4.7" fill="#111" stroke="#111" stroke-width="0.15" text-anchor="middle" font-weight="bold">AXIS 5</text>
<circle cx="293.3" cy="226.9" r="3.1" stroke="#1e1e1e" stroke-width="1" fill="white"/>
<circle cx="293.3" cy="226.9" r="1.55" stroke="#333" stroke-width="0.8" fill="none"/>
<circle cx="293.3" cy="278.6" r="3.1" stroke="#1e1e1e" stroke-width="1" fill="white"/>
<circle cx="293.3" cy="278.6" r="1.55" stroke="#333" stroke-width="0.8" fill="none"/>
<path d="M287.85,234.55 Q287.85,231.35 291.05,231.35 L295.75,232.25 Q298.95,232.25 298.95,235.45 L298.95,270.35 Q298.95,273.55 295.75,273.55 L291.05,274.45 Q287.85,274.45 287.85,271.25 Z" stroke="#161616" stroke-width="1.9" fill="white"/>
<line x1="297.65" y1="235.55" x2="297.65" y2="270.25" stroke="#777" stroke-width="0.8"/>
<text x="293.3" y="287.2" font-size="4.7" fill="#111" stroke="#111" stroke-width="0.15" text-anchor="middle" font-weight="bold">AXIS 6</text>
<circle cx="313.82" cy="226.9" r="3.1" stroke="#1e1e1e" stroke-width="1" fill="white"/>
<circle cx="313.82" cy="226.9" r="1.55" stroke="#333" stroke-width="0.8" fill="none"/>
<circle cx="313.82" cy="278.6" r="3.1" stroke="#1e1e1e" stroke-width="1" fill="white"/>
<circle cx="313.82" cy="278.6" r="1.55" stroke="#333" stroke-width="0.8" fill="none"/>
<path d="M308.37,234.55 Q308.37,231.35 311.57,231.35 L316.27,232.25 Q319.47,232.25 319.47,235.45 L319.47,270.35 Q319.47,273.55 316.27,273.55 L311.57,274.45 Q308.37,274.45 308.37,271.25 Z" stroke="#161616" stroke-width="1.9" fill="white"/>
<line x1="318.17" y1="235.55" x2="318.17" y2="270.25" stroke="#777" stroke-width="0.8"/>
<text x="313.82" y="287.2" font-size="4.7" fill="#111" stroke="#111" stroke-width="0.15" text-anchor="middle" font-weight="bold">UIO 1</text>
<circle cx="334.34" cy="226.9" r="3.1" stroke="#1e1e1e" stroke-width="1" fill="white"/>
<circle cx="334.34" cy="226.9" r="1.55" stroke="#333" stroke-width="0.8" fill="none"/>
<circle cx="334.34" cy="278.6" r="3.1" stroke="#1e1e1e" stroke-width="1" fill="white"/>
<circle cx="334.34" cy="278.6" r="1.55" stroke="#333" stroke-width="0.8" fill="none"/>
<path d="M328.89,234.55 Q328.89,231.35 332.09,231.35 L336.79,232.25 Q339.99,232.25 339.99,235.45 L339.99,270.35 Q339.99,273.55 336.79,273.55 L332.09,274.45 Q328.89,274.45 328.89,271.25 Z" stroke="#161616" stroke-width="1.9" fill="white"/>
<line x1="338.69" y1="235.55" x2="338.69" y2="270.25" stroke="#777" stroke-width="0.8"/>
<text x="334.34" y="287.2" font-size="4.7" fill="#111" stroke="#111" stroke-width="0.15" text-anchor="middle" font-weight="bold">UIO 2</text>
<path d="M313.6,288.3 V293 H352.8 V288.3" stroke="#1e1e1e" stroke-width="1.5" fill="none"/>
<line x1="335.4" y1="288.3" x2="335.4" y2="293" stroke="#1e1e1e" stroke-width="1.5"/>
<rect x="347" y="282" width="11" height="4.4" rx="0" stroke="#2b2b2b" stroke-width="0.9" fill="none"/>
<text x="352.5" y="280.6" font-size="3.36" fill="#111" stroke="#111" stroke-width="0.15" text-anchor="middle" font-weight="bold">PNP NPN</text>
<circle cx="366.2" cy="280.5" r="2.5" stroke="#2b2b2b" stroke-width="0.9" fill="none"/>
<text x="366.5" y="286.3" font-size="3.36" fill="#111" stroke="#111" stroke-width="0.15" text-anchor="middle" font-weight="bold">EDAY</text>
<line x1="612" y1="28.5" x2="747" y2="28.5" stroke="#1b4774" stroke-width="1.1"/>
<path d="M614.6,28.5 L623.2,26.5 L622.94,28.5 L623.2,30.5 Z" fill="#15508c"/>
<path d="M743.6,28.5 L735,30.5 L735.26,28.5 L735,26.5 Z" fill="#15508c"/>
<line x1="614.5" y1="26.1" x2="614.5" y2="82.2" stroke="#1b4774" stroke-width="1"/>
<line x1="743.5" y1="26.1" x2="743.5" y2="59.5" stroke="#1b4774" stroke-width="1"/>
<text x="678.8" y="25.8" font-size="16.4" fill="#15508c" stroke="#15508c" stroke-width="0.38" text-anchor="middle" font-weight="normal">117</text>
<line x1="628" y1="48.5" x2="747" y2="48.5" stroke="#1b4774" stroke-width="1.1"/>
<path d="M630.8,48.1 L639.4,46.1 L639.14,48.1 L639.4,50.1 Z" fill="#15508c"/>
<path d="M743.6,48.1 L735,50.1 L735.26,48.1 L735,46.1 Z" fill="#15508c"/>
<line x1="630.5" y1="46.2" x2="630.5" y2="78.2" stroke="#1b4774" stroke-width="1"/>
<text x="679.8" y="45.8" font-size="16.4" fill="#15508c" stroke="#15508c" stroke-width="0.38" text-anchor="middle" font-weight="normal">102.5</text>
<rect x="741.5" y="59.6" width="2.1" height="257.6" rx="0.5" stroke="#2a2a2a" stroke-width="1.1" fill="none"/>
<line x1="740.6" y1="66.5" x2="740.6" y2="80" stroke="#222" stroke-width="1.4"/>
<line x1="740.6" y1="296" x2="740.6" y2="309.2" stroke="#222" stroke-width="1.4"/>
<line x1="741.5" y1="69.4" x2="743.6" y2="69.4" stroke="#333" stroke-width="1"/>
<line x1="741.5" y1="89.2" x2="743.6" y2="89.2" stroke="#333" stroke-width="1"/>
<line x1="741.5" y1="284.5" x2="743.6" y2="284.5" stroke="#333" stroke-width="1"/>
<line x1="741.5" y1="303.5" x2="743.6" y2="303.5" stroke="#333" stroke-width="1"/>
<line x1="630.6" y1="78.4" x2="678.3" y2="78.4" stroke="#2b2b2b" stroke-width="1.1"/>
<line x1="678.3" y1="79" x2="741.2" y2="79" stroke="#222" stroke-width="2"/>
<line x1="630.8" y1="78.2" x2="630.8" y2="297.4" stroke="#2b2b2b" stroke-width="1.1"/>
<line x1="678" y1="78.4" x2="678" y2="297.4" stroke="#222" stroke-width="1.6"/>
<line x1="630.8" y1="297.4" x2="678" y2="297.4" stroke="#2b2b2b" stroke-width="1"/>
<line x1="678" y1="297.2" x2="741.2" y2="297.2" stroke="#222" stroke-width="2"/>
<rect x="614.4" y="82.2" width="16.2" height="13.8" rx="0" stroke="#2b2b2b" stroke-width="1" fill="none"/>
<line x1="622.4" y1="82.2" x2="622.4" y2="96" stroke="#2b2b2b" stroke-width="0.9"/>
<path d="M678,89.4 H664.5 V209.2 H678" stroke="#2b2b2b" stroke-width="1" fill="none"/>
<rect x="643" y="103.2" width="17.9" height="99.1" rx="0" stroke="#2b2b2b" stroke-width="1" fill="none"/>
<line x1="677" y1="209.5" x2="677" y2="222" stroke="#222" stroke-width="1.8"/>
<path d="M664.6,229.6 H646.4 L639.2,235.8 V270.1 L646.4,276 H664.6" stroke="#2b2b2b" stroke-width="1" fill="none"/>
<rect x="664.6" y="222.4" width="7.7" height="60.6" rx="0" stroke="#2b2b2b" stroke-width="1" fill="none"/>
<path d="M664.6,222.6 H660.5 Q657.6,222.6 657.6,226.3 Q657.6,230 660.5,230 H664.6" stroke="#222" stroke-width="1" fill="#555"/>
<path d="M664.6,276 H660.5 Q657.6,276 657.6,279.5 Q657.6,283 660.5,283 H664.6" stroke="#222" stroke-width="1" fill="#555"/>
<rect x="660.8" y="223.2" width="3.3" height="6.2" fill="white"/>
<rect x="660.8" y="276.6" width="3.3" height="5.9" fill="white"/>
<rect x="672.3" y="231.4" width="5.7" height="43.1" rx="0" stroke="#2b2b2b" stroke-width="1" fill="none"/>
<line x1="638.4" y1="245" x2="638.4" y2="261" stroke="#333" stroke-width="1.8"/>
<path d="M637.5,249.4 H620 Q595.5,249.4 595.5,271" stroke="#2b2b2b" stroke-width="0.9" fill="none"/>
<path d="M637.5,256.6 H620 Q602.6,256.6 602.6,271" stroke="#2b2b2b" stroke-width="0.9" fill="none"/>
<line x1="595.5" y1="271" x2="595.5" y2="351" stroke="#1b4774" stroke-width="1"/>
<line x1="743.5" y1="317.5" x2="743.5" y2="351.5" stroke="#1b4774" stroke-width="1"/>
<line x1="592" y1="348.5" x2="747" y2="348.5" stroke="#1b4774" stroke-width="1.1"/>
<path d="M595.6,348.2 L604.2,346.2 L603.94,348.2 L604.2,350.2 Z" fill="#15508c"/>
<path d="M743.6,348.2 L735,350.2 L735.26,348.2 L735,346.2 Z" fill="#15508c"/>
<text x="640" y="364.2" font-size="16.4" fill="#15508c" stroke="#15508c" stroke-width="0.38" text-anchor="start" font-weight="normal">135 MIN.</text>
<path d="M62.6,447.6 Q62.6,444.6 65.6,444.6 H414 Q420,444.6 420,450.6 V696 Q420,702 414,702 H68.6 Q62.6,702 62.6,696 Z" stroke="#555" stroke-width="1.3" fill="none"/>
<line x1="46" y1="419.5" x2="410.5" y2="419.5" stroke="#1b4774" stroke-width="1.1"/>
<path d="M62.6,419.2 L54,421.2 L54.26,419.2 L54,417.2 Z" fill="#15508c"/>
<path d="M74.5,419.2 L83.1,417.2 L82.84,419.2 L83.1,421.2 Z" fill="#15508c"/>
<path d="M407.5,419.2 L398.9,421.2 L399.16,419.2 L398.9,417.2 Z" fill="#15508c"/>
<line x1="62.5" y1="416.5" x2="62.5" y2="444.6" stroke="#1b4774" stroke-width="1"/>
<line x1="74.5" y1="416.5" x2="74.5" y2="450.5" stroke="#1b4774" stroke-width="1"/>
<line x1="74.5" y1="450.5" x2="74.5" y2="461" stroke="#2b2b2b" stroke-width="1"/>
<line x1="407.5" y1="416" x2="407.5" y2="450" stroke="#1b4774" stroke-width="1"/>
<text x="70" y="414.6" font-size="16.4" fill="#15508c" stroke="#15508c" stroke-width="0.38" text-anchor="middle" font-weight="normal">11.3</text>
<text x="232" y="415" font-size="16.4" fill="#15508c" stroke="#15508c" stroke-width="0.38" text-anchor="middle" font-weight="normal">302.3</text>
<line x1="35.5" y1="428.5" x2="35.5" y2="680.5" stroke="#1b4774" stroke-width="1.1"/>
<path d="M35.3,444.6 L33.3,436 L35.3,436.26 L37.3,436 Z" fill="#15508c"/>
<path d="M35.3,462.7 L37.3,471.3 L35.3,471.04 L33.3,471.3 Z" fill="#15508c"/>
<path d="M35.3,677.6 L33.3,669 L35.3,669.26 L37.3,669 Z" fill="#15508c"/>
<line x1="33" y1="444.5" x2="62.6" y2="444.5" stroke="#1b4774" stroke-width="1"/>
<line x1="33" y1="462.5" x2="80" y2="462.5" stroke="#1b4774" stroke-width="1"/>
<line x1="51" y1="469.5" x2="82" y2="469.5" stroke="#1b4774" stroke-width="1"/>
<line x1="33" y1="677.5" x2="70" y2="677.5" stroke="#1b4774" stroke-width="1"/>
<line x1="53" y1="683.5" x2="81.7" y2="683.5" stroke="#1b4774" stroke-width="1"/>
<text x="32.5" y="455.4" font-size="16.4" fill="#15508c" stroke="#15508c" stroke-width="0.38" text-anchor="middle" font-weight="normal" transform="rotate(-90 32.5 455.4)">16</text>
<text x="32" y="570.7" font-size="16.4" fill="#15508c" stroke="#15508c" stroke-width="0.38" text-anchor="middle" font-weight="normal" transform="rotate(-90 32 570.7)">195</text>
<line x1="53.5" y1="447" x2="53.5" y2="492.6" stroke="#1b4774" stroke-width="1.1"/>
<path d="M53.3,462.6 L51.3,454 L53.3,454.26 L55.3,454 Z" fill="#15508c"/>
<path d="M53.3,469 L55.3,477.6 L53.3,477.34 L51.3,477.6 Z" fill="#15508c"/>
<text x="52" y="483.6" font-size="16.4" fill="#15508c" stroke="#15508c" stroke-width="0.38" text-anchor="middle" font-weight="normal" transform="rotate(-90 52 483.6)">6</text>
<line x1="55.5" y1="652.4" x2="55.5" y2="698.9" stroke="#1b4774" stroke-width="1.1"/>
<path d="M55.5,677.7 L53.5,669.1 L55.5,669.36 L57.5,669.1 Z" fill="#15508c"/>
<path d="M55.5,683.4 L57.5,692 L55.5,691.74 L53.5,692 Z" fill="#15508c"/>
<text x="52.5" y="658.6" font-size="16.4" fill="#15508c" stroke="#15508c" stroke-width="0.38" text-anchor="middle" font-weight="normal" transform="rotate(-90 52.5 658.6)">6</text>
<circle cx="70.5" cy="452" r="3.1" stroke="#2b2b2b" stroke-width="0.9" fill="none"/>
<circle cx="74.4" cy="469" r="5.6" stroke="#2b2b2b" stroke-width="0.9" fill="none"/>
<circle cx="74.4" cy="461.8" r="2.4" stroke="#222" stroke-width="0.8" fill="#444"/>
<line x1="66.4" y1="469" x2="82.4" y2="469" stroke="#2b2b2b" stroke-width="0.8"/>
<line x1="74.4" y1="456" x2="74.4" y2="477" stroke="#2b2b2b" stroke-width="0.8"/>
<circle cx="412" cy="453" r="3.1" stroke="#2b2b2b" stroke-width="0.9" fill="none"/>
<circle cx="407.6" cy="469.1" r="5.6" stroke="#2b2b2b" stroke-width="0.9" fill="none"/>
<circle cx="407.6" cy="462" r="2.4" stroke="#222" stroke-width="0.8" fill="#444"/>
<line x1="399.6" y1="469.1" x2="415.6" y2="469.1" stroke="#2b2b2b" stroke-width="0.8"/>
<line x1="407.6" y1="456" x2="407.6" y2="477" stroke="#2b2b2b" stroke-width="0.8"/>
<circle cx="70.4" cy="694" r="3.1" stroke="#2b2b2b" stroke-width="0.9" fill="none"/>
<circle cx="74.6" cy="683.4" r="5.6" stroke="#2b2b2b" stroke-width="0.9" fill="none"/>
<circle cx="74.6" cy="676.3" r="2.4" stroke="#222" stroke-width="0.8" fill="#444"/>
<line x1="66.6" y1="683.4" x2="82.6" y2="683.4" stroke="#2b2b2b" stroke-width="0.8"/>
<line x1="74.6" y1="666.5" x2="74.6" y2="690.8" stroke="#2b2b2b" stroke-width="0.8"/>
<circle cx="412" cy="694.6" r="3.1" stroke="#2b2b2b" stroke-width="0.9" fill="none"/>
<circle cx="407.7" cy="683.8" r="5.6" stroke="#2b2b2b" stroke-width="0.9" fill="none"/>
<circle cx="407.7" cy="675.4" r="2.4" stroke="#222" stroke-width="0.8" fill="#444"/>
<line x1="399.7" y1="683.8" x2="415.7" y2="683.8" stroke="#2b2b2b" stroke-width="0.8"/>
<line x1="407.7" y1="667" x2="407.7" y2="690.8" stroke="#2b2b2b" stroke-width="0.8"/>
<rect x="87.5" y="452.5" width="44.3" height="241.6" rx="2.5" stroke="#2b2b2b" stroke-width="1.2" fill="none"/>
<line x1="87.5" y1="463.3" x2="131.8" y2="463.3" stroke="#2b2b2b" stroke-width="1.2"/>
<circle cx="93" cy="457.9" r="3" stroke="#1a1a1a" stroke-width="1" fill="#2e2e2e"/>
<line x1="91.5" y1="456.4" x2="94.5" y2="459.4" stroke="#bdbdbd" stroke-width="0.6"/>
<line x1="91.5" y1="459.4" x2="94.5" y2="456.4" stroke="#bdbdbd" stroke-width="0.6"/>
<circle cx="126.4" cy="457.9" r="3" stroke="#1a1a1a" stroke-width="1" fill="#2e2e2e"/>
<line x1="124.9" y1="456.4" x2="127.9" y2="459.4" stroke="#bdbdbd" stroke-width="0.6"/>
<line x1="124.9" y1="459.4" x2="127.9" y2="456.4" stroke="#bdbdbd" stroke-width="0.6"/>
<line x1="87.5" y1="467.6" x2="131.2" y2="467.6" stroke="#666" stroke-width="0.9"/>
<line x1="87.5" y1="481.2" x2="131.2" y2="481.2" stroke="#444" stroke-width="0.9"/>
<path d="M97.3,481.2 V467.4 H122.1 V481.2 Z" stroke="#1a1a1a" stroke-width="1.2" fill="none"/>
<line x1="97.3" y1="467" x2="97.3" y2="482" stroke="#1a1a1a" stroke-width="2"/>
<line x1="106.3" y1="467" x2="106.3" y2="482" stroke="#1a1a1a" stroke-width="2"/>
<line x1="114.2" y1="467" x2="114.2" y2="482" stroke="#1a1a1a" stroke-width="2"/>
<line x1="122.1" y1="467" x2="122.1" y2="482" stroke="#1a1a1a" stroke-width="2"/>
<circle cx="92.8" cy="474.3" r="2.9" stroke="#1a1a1a" stroke-width="1" fill="#2e2e2e"/>
<line x1="91.35" y1="472.85" x2="94.25" y2="475.75" stroke="#bdbdbd" stroke-width="0.6"/>
<line x1="91.35" y1="475.75" x2="94.25" y2="472.85" stroke="#bdbdbd" stroke-width="0.6"/>
<circle cx="101.6" cy="474.3" r="2.9" stroke="#1a1a1a" stroke-width="1" fill="#2e2e2e"/>
<line x1="100.15" y1="472.85" x2="103.05" y2="475.75" stroke="#bdbdbd" stroke-width="0.6"/>
<line x1="100.15" y1="475.75" x2="103.05" y2="472.85" stroke="#bdbdbd" stroke-width="0.6"/>
<circle cx="110" cy="474.3" r="2.9" stroke="#1a1a1a" stroke-width="1" fill="#2e2e2e"/>
<line x1="108.55" y1="472.85" x2="111.45" y2="475.75" stroke="#bdbdbd" stroke-width="0.6"/>
<line x1="108.55" y1="475.75" x2="111.45" y2="472.85" stroke="#bdbdbd" stroke-width="0.6"/>
<circle cx="118" cy="474.3" r="2.9" stroke="#1a1a1a" stroke-width="1" fill="#2e2e2e"/>
<line x1="116.55" y1="472.85" x2="119.45" y2="475.75" stroke="#bdbdbd" stroke-width="0.6"/>
<line x1="116.55" y1="475.75" x2="119.45" y2="472.85" stroke="#bdbdbd" stroke-width="0.6"/>
<circle cx="127" cy="474.3" r="2.9" stroke="#1a1a1a" stroke-width="1" fill="#2e2e2e"/>
<line x1="125.55" y1="472.85" x2="128.45" y2="475.75" stroke="#bdbdbd" stroke-width="0.6"/>
<line x1="125.55" y1="475.75" x2="128.45" y2="472.85" stroke="#bdbdbd" stroke-width="0.6"/>
<line x1="87.5" y1="682.8" x2="131.8" y2="682.8" stroke="#2b2b2b" stroke-width="1.2"/>
<circle cx="93" cy="689" r="3" stroke="#1a1a1a" stroke-width="1" fill="#2e2e2e"/>
<line x1="91.5" y1="687.5" x2="94.5" y2="690.5" stroke="#bdbdbd" stroke-width="0.6"/>
<line x1="91.5" y1="690.5" x2="94.5" y2="687.5" stroke="#bdbdbd" stroke-width="0.6"/>
<circle cx="126.8" cy="689" r="3" stroke="#1a1a1a" stroke-width="1" fill="#2e2e2e"/>
<line x1="125.3" y1="687.5" x2="128.3" y2="690.5" stroke="#bdbdbd" stroke-width="0.6"/>
<line x1="125.3" y1="690.5" x2="128.3" y2="687.5" stroke="#bdbdbd" stroke-width="0.6"/>
<path d="M132.4,694.3 V455.3 Q132.4,452.3 135.4,452.3 H392.3 Q395.3,452.3 395.3,455.3 V694" stroke="#2b2b2b" stroke-width="1.2" fill="none"/>
<line x1="132.4" y1="463" x2="395.3" y2="463" stroke="#2b2b2b" stroke-width="1.2"/>
<circle cx="137.3" cy="457.9" r="3" stroke="#1a1a1a" stroke-width="1" fill="#2e2e2e"/>
<line x1="135.8" y1="456.4" x2="138.8" y2="459.4" stroke="#bdbdbd" stroke-width="0.6"/>
<line x1="135.8" y1="459.4" x2="138.8" y2="456.4" stroke="#bdbdbd" stroke-width="0.6"/>
<circle cx="263.7" cy="457.9" r="3" stroke="#1a1a1a" stroke-width="1" fill="#2e2e2e"/>
<line x1="262.2" y1="456.4" x2="265.2" y2="459.4" stroke="#bdbdbd" stroke-width="0.6"/>
<line x1="262.2" y1="459.4" x2="265.2" y2="456.4" stroke="#bdbdbd" stroke-width="0.6"/>
<circle cx="389.6" cy="457.9" r="3" stroke="#1a1a1a" stroke-width="1" fill="#2e2e2e"/>
<line x1="388.1" y1="456.4" x2="391.1" y2="459.4" stroke="#bdbdbd" stroke-width="0.6"/>
<line x1="388.1" y1="459.4" x2="391.1" y2="456.4" stroke="#bdbdbd" stroke-width="0.6"/>
<line x1="132.4" y1="683.8" x2="395.3" y2="683.8" stroke="#2b2b2b" stroke-width="1.2"/>
<path d="M132.4,683.8 V691.3 Q132.4,694.3 135.4,694.3 H201.2 Q204.2,694.3 204.2,691.3 V683.8" stroke="#2b2b2b" stroke-width="1.2" fill="none"/>
<path d="M215,683.8 V691.3 Q215,694.3 218,694.3 H392.3 Q395.3,694.3 395.3,691.3 V683.8" stroke="#2b2b2b" stroke-width="1.2" fill="none"/>
<circle cx="137.5" cy="689" r="3" stroke="#1a1a1a" stroke-width="1" fill="#2e2e2e"/>
<line x1="136" y1="687.5" x2="139" y2="690.5" stroke="#bdbdbd" stroke-width="0.6"/>
<line x1="136" y1="690.5" x2="139" y2="687.5" stroke="#bdbdbd" stroke-width="0.6"/>
<circle cx="263.8" cy="688.8" r="3" stroke="#1a1a1a" stroke-width="1" fill="#2e2e2e"/>
<line x1="262.3" y1="687.3" x2="265.3" y2="690.3" stroke="#bdbdbd" stroke-width="0.6"/>
<line x1="262.3" y1="690.3" x2="265.3" y2="687.3" stroke="#bdbdbd" stroke-width="0.6"/>
<circle cx="389.6" cy="689" r="3" stroke="#1a1a1a" stroke-width="1" fill="#2e2e2e"/>
<line x1="388.1" y1="687.5" x2="391.1" y2="690.5" stroke="#bdbdbd" stroke-width="0.6"/>
<line x1="388.1" y1="690.5" x2="391.1" y2="687.5" stroke="#bdbdbd" stroke-width="0.6"/>
<line x1="132.4" y1="474.5" x2="336.9" y2="474.5" stroke="#2b2b2b" stroke-width="1.2"/>
<circle cx="137.3" cy="469" r="3" stroke="#1a1a1a" stroke-width="1" fill="#2e2e2e"/>
<line x1="135.8" y1="467.5" x2="138.8" y2="470.5" stroke="#bdbdbd" stroke-width="0.6"/>
<line x1="135.8" y1="470.5" x2="138.8" y2="467.5" stroke="#bdbdbd" stroke-width="0.6"/>
<circle cx="234.5" cy="469.2" r="3" stroke="#1a1a1a" stroke-width="1" fill="#2e2e2e"/>
<line x1="233" y1="467.7" x2="236" y2="470.7" stroke="#bdbdbd" stroke-width="0.6"/>
<line x1="233" y1="470.7" x2="236" y2="467.7" stroke="#bdbdbd" stroke-width="0.6"/>
<circle cx="331.4" cy="469.2" r="3" stroke="#1a1a1a" stroke-width="1" fill="#2e2e2e"/>
<line x1="329.9" y1="467.7" x2="332.9" y2="470.7" stroke="#bdbdbd" stroke-width="0.6"/>
<line x1="329.9" y1="470.7" x2="332.9" y2="467.7" stroke="#bdbdbd" stroke-width="0.6"/>
<path d="M132.4,463 H334 Q336.9,463 336.9,466 V592.3" stroke="#2b2b2b" stroke-width="1.2" fill="none"/>
<line x1="334.8" y1="474.5" x2="334.8" y2="590.5" stroke="#2b2b2b" stroke-width="0.8"/>
<line x1="132.4" y1="590.6" x2="336.9" y2="590.6" stroke="#2b2b2b" stroke-width="0.8"/>
<line x1="132.4" y1="592.3" x2="336.9" y2="592.3" stroke="#2b2b2b" stroke-width="1.2"/>
<path d="M147.7,592.3 V602.5 Q147.7,605.5 150.7,605.5 H333.9 Q336.9,605.5 336.9,602.5 V592.3" stroke="#2b2b2b" stroke-width="1.2" fill="none"/>
<circle cx="152.9" cy="600" r="3" stroke="#1a1a1a" stroke-width="1" fill="#2e2e2e"/>
<line x1="151.4" y1="598.5" x2="154.4" y2="601.5" stroke="#bdbdbd" stroke-width="0.6"/>
<line x1="151.4" y1="601.5" x2="154.4" y2="598.5" stroke="#bdbdbd" stroke-width="0.6"/>
<circle cx="234.5" cy="600" r="3" stroke="#1a1a1a" stroke-width="1" fill="#2e2e2e"/>
<line x1="233" y1="598.5" x2="236" y2="601.5" stroke="#bdbdbd" stroke-width="0.6"/>
<line x1="233" y1="601.5" x2="236" y2="598.5" stroke="#bdbdbd" stroke-width="0.6"/>
<circle cx="331.4" cy="600" r="3" stroke="#1a1a1a" stroke-width="1" fill="#2e2e2e"/>
<line x1="329.9" y1="598.5" x2="332.9" y2="601.5" stroke="#bdbdbd" stroke-width="0.6"/>
<line x1="329.9" y1="601.5" x2="332.9" y2="598.5" stroke="#bdbdbd" stroke-width="0.6"/>
<path d="M334.8,476.3 H323.7 V479.5 H325.7 V483.6 H323.7 V486.8 H334.8" stroke="#2b2b2b" stroke-width="0.9" fill="none"/>
<rect x="327" y="489.2" width="6" height="52.3" rx="0" stroke="#2b2b2b" stroke-width="1" fill="none"/>
<path d="M334.8,544 H323.7 V547.6 H325.7 V551.8 H323.7 V555.4 H334.8" stroke="#2b2b2b" stroke-width="0.9" fill="none"/>
<text x="376" y="672" font-size="3.36" fill="#111" stroke="#111" stroke-width="0.15" text-anchor="middle" font-weight="bold">EDAY</text>
<line x1="407" y1="462" x2="437.2" y2="438.6" stroke="#1b4774" stroke-width="1.1"/>
<line x1="437.2" y1="438.5" x2="444.4" y2="438.5" stroke="#1b4774" stroke-width="1.1"/>
<path d="M407.5,461.8 L411.69,455.79 L412.86,457.66 L414.37,459.27 Z" fill="#15508c"/>
<text x="446.5" y="445.8" font-size="16.4" fill="#15508c" stroke="#15508c" stroke-width="0.38" text-anchor="start" font-weight="normal">4-M4</text>
<line x1="412" y1="462.5" x2="446" y2="462.5" stroke="#1b4774" stroke-width="1"/>
<line x1="417.5" y1="469.5" x2="446" y2="469.5" stroke="#1b4774" stroke-width="1"/>
<line x1="442.5" y1="447.6" x2="442.5" y2="488" stroke="#1b4774" stroke-width="1.1"/>
<path d="M442.6,462.3 L440.6,453.7 L442.6,453.96 L444.6,453.7 Z" fill="#15508c"/>
<path d="M442.6,469 L444.6,477.6 L442.6,477.34 L440.6,477.6 Z" fill="#15508c"/>
<text x="459" y="466" font-size="16.4" fill="#15508c" stroke="#15508c" stroke-width="0.38" text-anchor="middle" font-weight="normal" transform="rotate(-90 459 466)">6</text>
<line x1="386" y1="679.2" x2="441.5" y2="666.6" stroke="#1b4774" stroke-width="1.1"/>
<path d="M410.5,673.6 L417.3,669.69 L417.59,671.98 L418.32,674.18 Z" fill="#15508c"/>
<path d="M403.5,675.2 L396.7,679.11 L396.41,676.82 L395.68,674.62 Z" fill="#15508c"/>
<line x1="388" y1="682.1" x2="451.5" y2="694.3" stroke="#1b4774" stroke-width="1.1"/>
<path d="M413.5,686.9 L421.3,686.06 L420.64,688.27 L420.43,690.58 Z" fill="#15508c"/>
<path d="M401.8,684.8 L394,685.64 L394.66,683.43 L394.87,681.12 Z" fill="#15508c"/>
<text x="423" y="667.5" font-size="16.4" fill="#15508c" stroke="#15508c" stroke-width="0.38" text-anchor="start" font-weight="normal" transform="rotate(-12 423 667.5)">Ø6</text>
<text x="426.5" y="685" font-size="16.4" fill="#15508c" stroke="#15508c" stroke-width="0.38" text-anchor="start" font-weight="normal" transform="rotate(14 426.5 685)">Ø10</text>
</svg></body></html>
